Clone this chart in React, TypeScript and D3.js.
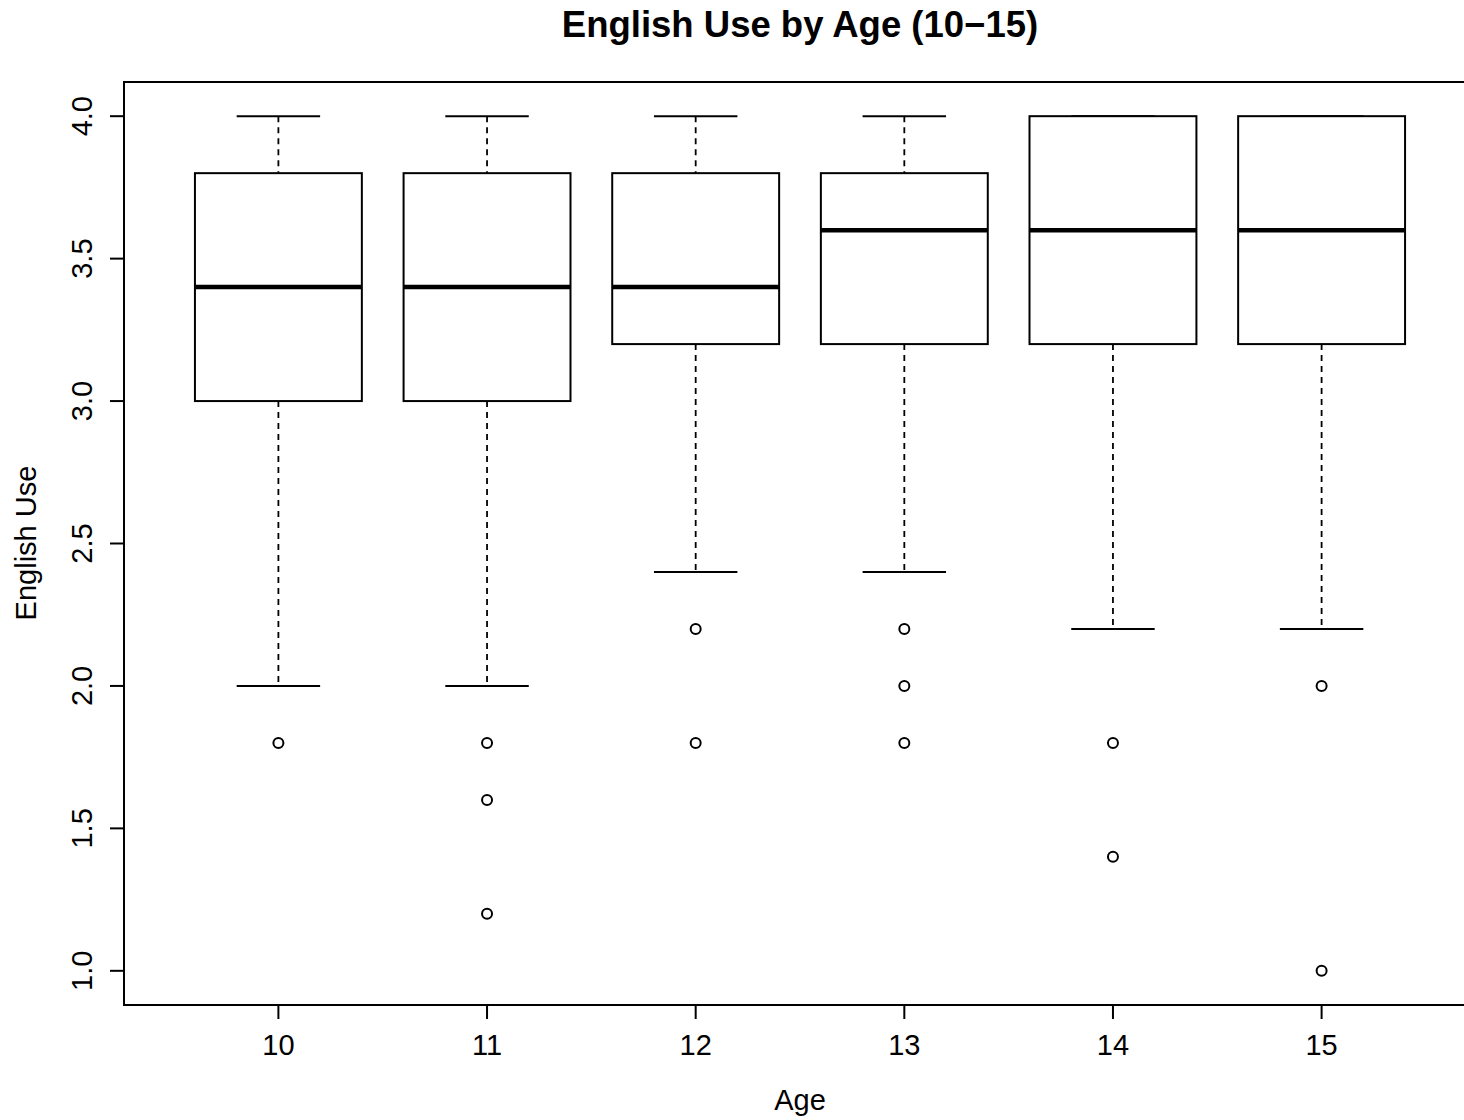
import React from 'react';
import * as d3 from 'd3';

// Age groups and boxplot stats
const ages = ['10', '11', '12', '13', '14', '15'];
const whiskerLow = [2.0, 2.0, 2.4, 2.4, 2.2, 2.2];
const q1 = [3.0, 3.0, 3.2, 3.2, 3.2, 3.2];
const medians = [3.4, 3.4, 3.4, 3.6, 3.6, 3.6];
const q3 = [3.8, 3.8, 3.8, 3.8, 4.0, 4.0];
const whiskerHigh = [4.0, 4.0, 4.0, 4.0, 4.0, 4.0];
const outliers = [[1.8], [1.8, 1.6, 1.2], [2.2, 1.8], [2.2, 2.0, 1.8], [1.8, 1.4], [2.0, 1.0]];
const yTicks = [1.0, 1.5, 2.0, 2.5, 3.0, 3.5, 4.0];

const width = 1464;
const height = 1120;
const left = 124;
const top = 82;
const bottom = 1005;

const App = () => {
    // R style axis: xlim 0.5..6.5 and ylim 1..4, each widened by 4%
    const x = d3.scaleLinear().domain([0.26, 6.74]).range([left, left + 1352]);
    const y = d3.scaleLinear().domain([0.88, 4.12]).range([bottom, top]);
    const font = 'Liberation Sans, Arial, sans-serif';
    const boxHalf = x(0.4) - x(0);
    const capHalf = x(0.2) - x(0);

    return (
        <svg width={width} height={height} style={{ position: 'absolute', left: 0, top: 0 }}>
            <rect width={width} height={height} fill="#ffffff" />
            <text x={800} y={37} textAnchor="middle" fontFamily={font} fontWeight="bold" fontSize={36.5}>
                English Use by Age (10−15)
            </text>

            {ages.map((age, i) => {
                const cx = x(i + 1);
                return (
                    <g key={age} stroke="#000" fill="none">
                        <line x1={cx} x2={cx} y1={y(whiskerHigh[i])} y2={y(q3[i])} strokeWidth={1.8} strokeDasharray="6,5" />
                        <line x1={cx} x2={cx} y1={y(q1[i])} y2={y(whiskerLow[i])} strokeWidth={1.8} strokeDasharray="6,5" />
                        <line x1={cx - capHalf} x2={cx + capHalf} y1={y(whiskerHigh[i])} y2={y(whiskerHigh[i])} strokeWidth={2} />
                        <line x1={cx - capHalf} x2={cx + capHalf} y1={y(whiskerLow[i])} y2={y(whiskerLow[i])} strokeWidth={2} />
                        <rect x={cx - boxHalf} y={y(q3[i])} width={boxHalf * 2} height={y(q1[i]) - y(q3[i])} strokeWidth={2} fill="#fff" />
                        <line x1={cx - boxHalf} x2={cx + boxHalf} y1={y(medians[i])} y2={y(medians[i])} strokeWidth={4.5} />
                        {outliers[i].map((v, j) => (
                            <circle key={j} cx={cx} cy={y(v)} r={5} strokeWidth={2} />
                        ))}
                    </g>
                );
            })}

            {/* plot frame */}
            <rect x={left} y={top} width={x(6.74) - left} height={bottom - top} fill="none" stroke="#000" strokeWidth={2} />

            {/* y axis */}
            {yTicks.map(t => (
                <g key={t}>
                    <line x1={left - 14} x2={left} y1={y(t)} y2={y(t)} stroke="#000" strokeWidth={2} />
                    <text
                        transform={`translate(92, ${y(t)}) rotate(-90)`}
                        textAnchor="middle"
                        fontFamily={font}
                        fontSize={29}
                    >
                        {t.toFixed(1)}
                    </text>
                </g>
            ))}

            {/* x axis */}
            {ages.map((age, i) => (
                <g key={age}>
                    <line x1={x(i + 1)} x2={x(i + 1)} y1={bottom} y2={bottom + 14} stroke="#000" strokeWidth={2} />
                    <text x={x(i + 1)} y={1055} textAnchor="middle" fontFamily={font} fontSize={29}>
                        {age}
                    </text>
                </g>
            ))}

            <text x={800} y={1110} textAnchor="middle" fontFamily={font} fontSize={29}>Age</text>
            <text transform={`translate(36, 543) rotate(-90)`} textAnchor="middle" fontFamily={font} fontSize={29}>
                English Use
            </text>
        </svg>
    );
};

export default App;
